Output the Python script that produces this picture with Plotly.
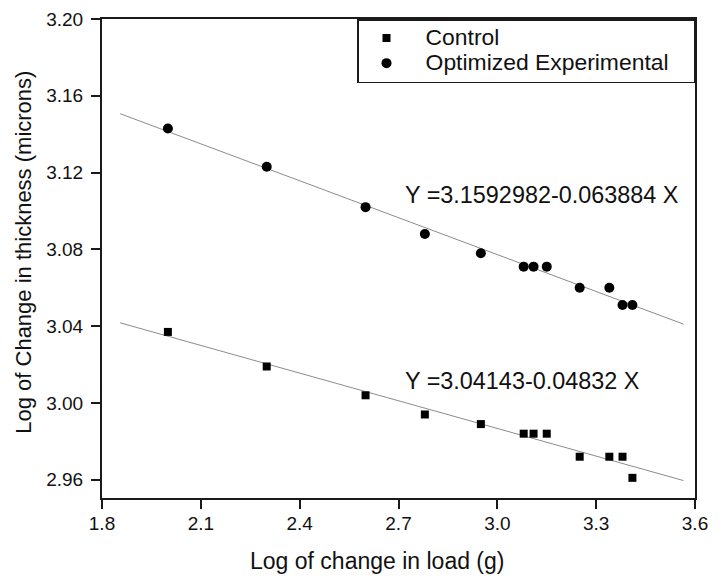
import numpy as np
import plotly.graph_objects as go

# ---- data ----
log_load = [2.0, 2.3, 2.6, 2.78, 2.95, 3.08, 3.11, 3.15, 3.25, 3.34, 3.38, 3.41]
control = [3.037, 3.019, 3.004, 2.994, 2.989, 2.984, 2.984, 2.984, 2.972, 2.972, 2.972, 2.961]
optimized = [3.143, 3.123, 3.102, 3.088, 3.078, 3.071, 3.071, 3.071, 3.060, 3.060, 3.051, 3.051]
fit_span = [1.855, 3.565]
eq_optimized = "Y =3.1592982-0.063884 X"
eq_control = "Y =3.04143-0.04832 X"
x_ticks = [1.8, 2.1, 2.4, 2.7, 3.0, 3.3, 3.6]
y_ticks = [2.96, 3.00, 3.04, 3.08, 3.12, 3.16, 3.20]

FONT = "Liberation Sans, Arial, sans-serif"
INK = "#111111"
NB = "\u00a0"


def legend_label(txt, trail=0):
    return f'<span style="font-size:22.9px">{NB * 3}{txt}{NB * trail}</span>'


fig = go.Figure()

# regression lines (fitted from the data)
for ys in (optimized, control):
    k, b = np.polyfit(log_load, ys, 1)
    xs = np.array(fit_span)
    fig.add_trace(go.Scatter(x=xs, y=k * xs + b, mode="lines",
                             line=dict(color="#8c8c8c", width=1),
                             showlegend=False, hoverinfo="skip"))

fig.add_trace(go.Scatter(x=log_load, y=control, mode="markers", name=legend_label("Control"),
                         marker=dict(symbol="square", size=8, color="black")))
fig.add_trace(go.Scatter(x=log_load, y=optimized, mode="markers",
                         name=legend_label("Optimized Experimental", 3),
                         marker=dict(symbol="circle", size=10, color="black")))

axis_common = dict(showline=True, linecolor="#1a1a1a", linewidth=2, mirror=True,
                   ticks="outside", ticklen=9, tickwidth=1.5, tickcolor="#1a1a1a",
                   showgrid=False, zeroline=False, automargin=False,
                   tickfont=dict(family=FONT, size=19, color=INK))

fig.update_xaxes(range=[1.8, 3.6], tickvals=x_ticks, ticklabelstandoff=-2,
                 ticktext=[f"{v:.1f}" for v in x_ticks], **axis_common)
fig.update_yaxes(range=[2.9505, 3.20], tickvals=y_ticks, ticklabelstandoff=4,
                 ticktext=[f"{v:.2f}" for v in y_ticks], **axis_common)

fig.add_annotation(text="Log of change in load (g)", xref="paper", yref="paper",
                   x=0.4644, y=0, yshift=-63, xanchor="center", yanchor="middle",
                   showarrow=False, font=dict(family=FONT, size=23, color=INK))
fig.add_annotation(text="Log of Change in thickness (microns)", xref="paper", yref="paper",
                   x=0, y=0.513, xshift=-78.5, xanchor="center", yanchor="middle",
                   textangle=-90, showarrow=False, font=dict(family=FONT, size=22, color=INK))

fig.add_annotation(text=eq_optimized, x=2.714, y=3.1085, xanchor="left", yanchor="middle",
                   showarrow=False, font=dict(family=FONT, size=23.4, color=INK))
fig.add_annotation(text=eq_control, x=2.714, y=3.0116, xanchor="left", yanchor="middle",
                   showarrow=False, font=dict(family=FONT, size=23.4, color=INK))

# the page body has an 8px margin, so the figure is 8px smaller and margins shifted
fig.update_layout(
    width=716, height=570,
    margin=dict(l=94, r=29, t=11, b=80, autoexpand=False),
    paper_bgcolor="white", plot_bgcolor="white",
    font=dict(family=FONT, color=INK),
    legend=dict(x=1, y=1, xanchor="right", yanchor="top",
                bgcolor="white", bordercolor="#1a1a1a", borderwidth=1.5,
                font=dict(family=FONT, size=17, color=INK),
                indentation=8, tracegroupgap=0),
)

fig.write_html("out.html")
